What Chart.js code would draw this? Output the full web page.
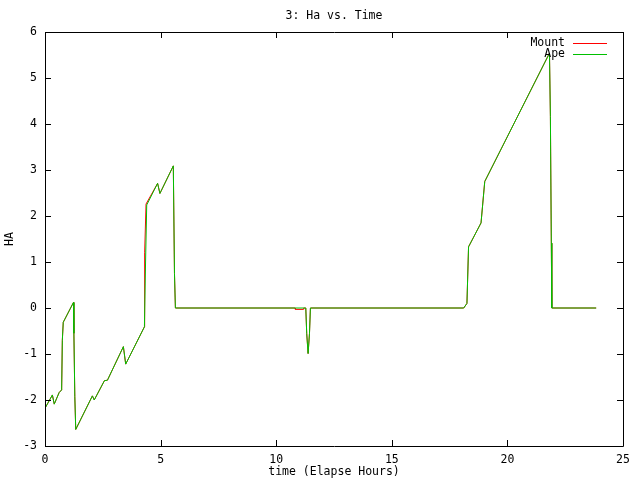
<!DOCTYPE html>
<html>
<head>
<meta charset="utf-8">
<script src="https://cdn.jsdelivr.net/npm/chart.js@4/dist/chart.umd.min.js"></script>
<style>
html,body{margin:0;padding:0;background:#fff;}
#wrap{width:640px;height:480px;}
</style>
</head>
<body>
<div id="wrap"><canvas id="c" width="640" height="480"></canvas></div>
<script>
const chartTitle = "3: Ha vs. Time";
const xTitle = "time (Elapse Hours)";
const yTitle = "HA";
const seriesNames = ["Mount", "Ape"];

const mountX = [0, 0.32, 0.40, 0.61, 0.72, 0.75, 0.79, 1.23, 1.25, 1.29, 1.33, 2.05, 2.13, 2.57, 2.70, 3.39, 3.49, 4.30, 4.31, 4.37, 4.87, 4.97, 5.55, 5.60, 5.64, 10.82, 10.83, 11.18, 11.19, 11.28, 11.32, 11.38, 11.44, 11.48, 18.11, 18.25, 18.32, 18.86, 19.02, 21.82, 21.86, 21.90, 21.92, 23.84];
const mountY = [-2.18, -1.89, -2.09, -1.84, -1.78, -0.70, -0.31, 0.12, -0.55, -1.93, -2.64, -1.91, -2.00, -1.58, -1.57, -0.84, -1.22, -0.41, 1.20, 2.26, 2.71, 2.49, 3.09, 0.75, 0, 0, -0.03, -0.03, 0, 0, -0.55, -0.99, -0.55, 0, 0, 0.10, 1.33, 1.85, 2.75, 5.54, 4.16, 1.41, 0, 0];

const apeX = [0, 0.32, 0.40, 0.61, 0.72, 0.75, 0.79, 1.23, 1.25, 1.29, 1.33, 2.05, 2.13, 2.57, 2.70, 3.39, 3.49, 4.30, 4.35, 4.40, 4.87, 4.97, 5.55, 5.60, 5.64, 11.28, 11.32, 11.38, 11.44, 11.48, 18.11, 18.25, 18.32, 18.86, 19.02, 21.82, 21.86, 21.90, 21.92, 23.84];
const apeY = [-2.18, -1.89, -2.09, -1.84, -1.78, -0.70, -0.31, 0.12, -0.55, -1.93, -2.64, -1.91, -2.00, -1.58, -1.57, -0.84, -1.22, -0.41, 1.00, 2.24, 2.71, 2.49, 3.09, 0.75, 0, 0, -0.55, -0.99, -0.55, 0, 0, 0.10, 1.33, 1.85, 2.75, 5.54, 4.16, 1.41, 0, 0];

const xTicks = [0, 5, 10, 15, 20, 25];
const yTicks = [-3, -2, -1, 0, 1, 2, 3, 4, 5, 6];

const FONT = "'DejaVu Sans Mono', 'Liberation Mono', monospace";
const FSIZE = 11.5;

function pts(xs, ys) { return xs.map((x, i) => ({x: x, y: ys[i]})); }

const framePlugin = {
  id: 'frame',
  afterDraw(chart) {
    const ctx = chart.ctx;
    const a = chart.chartArea;
    const xs = chart.scales.x, ys = chart.scales.y;
    ctx.save();
    ctx.strokeStyle = '#000';
    ctx.lineWidth = 1;
    ctx.beginPath();
    ctx.rect(Math.round(a.left) + 0.5, Math.round(a.top) + 0.5, Math.round(a.right - a.left), Math.round(a.bottom - a.top));
    ctx.stroke();
    const tl = 6;
    ctx.beginPath();
    xTicks.forEach(v => {
      const px = Math.round(xs.getPixelForValue(v)) + 0.5;
      ctx.moveTo(px, a.bottom); ctx.lineTo(px, a.bottom - tl);
      ctx.moveTo(px, a.top); ctx.lineTo(px, a.top + tl);
    });
    yTicks.forEach(v => {
      const py = Math.round(ys.getPixelForValue(v)) + 0.5;
      ctx.moveTo(a.left, py); ctx.lineTo(a.left + tl, py);
      ctx.moveTo(a.right, py); ctx.lineTo(a.right - tl, py);
    });
    ctx.stroke();
    // title
    ctx.fillStyle = '#000';
    ctx.font = FSIZE + 'px ' + FONT;
    ctx.textAlign = 'center';
    ctx.textBaseline = 'middle';
    ctx.fillText(chartTitle, (a.left + a.right) / 2, 16);
    ctx.fillText(xTitle, (a.left + a.right) / 2, 472);
    ctx.save();
    ctx.translate(10, (a.top + a.bottom) / 2);
    ctx.rotate(-Math.PI / 2);
    ctx.fillText(yTitle, 0, 0);
    ctx.restore();
    // legend
    const colors = chart.data.datasets.map(d => d.borderColor);
    seriesNames.forEach((n, i) => {
      const y = 43 + i * 11;
      ctx.textAlign = 'right';
      ctx.fillStyle = '#000';
      ctx.fillText(n, 565, y);
      ctx.strokeStyle = colors[i];
      ctx.beginPath();
      ctx.moveTo(573, y + 0.5); ctx.lineTo(607, y + 0.5);
      ctx.stroke();
    });
    ctx.restore();
  }
};

new Chart(document.getElementById('c'), {
  type: 'line',
  data: {
    datasets: [
      {label: seriesNames[0], data: pts(mountX, mountY), borderColor: '#ff0000', borderWidth: 1, pointRadius: 0, tension: 0, fill: false, order: 2},
      {label: seriesNames[1], data: pts(apeX, apeY), borderColor: '#00c000', borderWidth: 1, pointRadius: 0, tension: 0, fill: false, order: 1}
    ]
  },
  plugins: [framePlugin],
  options: {
    responsive: false,
    animation: false,
    devicePixelRatio: 1,
    layout: {padding: {left: 0, right: 17, top: 32, bottom: 0}},
    plugins: {legend: {display: false}, title: {display: false}, tooltip: {enabled: false}},
    scales: {
      x: {
        type: 'linear', min: 0, max: 25,
        afterFit(s) { s.height = 34; },
        afterBuildTicks(s) { s.ticks = xTicks.map(v => ({value: v})); },
        grid: {display: false, drawTicks: false},
        border: {display: false},
        ticks: {color: '#000', padding: 7, maxRotation: 0, font: {family: FONT, size: FSIZE}}
      },
      y: {
        type: 'linear', min: -3, max: 6,
        afterFit(s) { s.width = 45; },
        afterBuildTicks(s) { s.ticks = yTicks.map(v => ({value: v})); },
        grid: {display: false, drawTicks: false},
        border: {display: false},
        ticks: {color: '#000', padding: 8, font: {family: FONT, size: FSIZE}}
      }
    }
  }
});
</script>
</body>
</html>
